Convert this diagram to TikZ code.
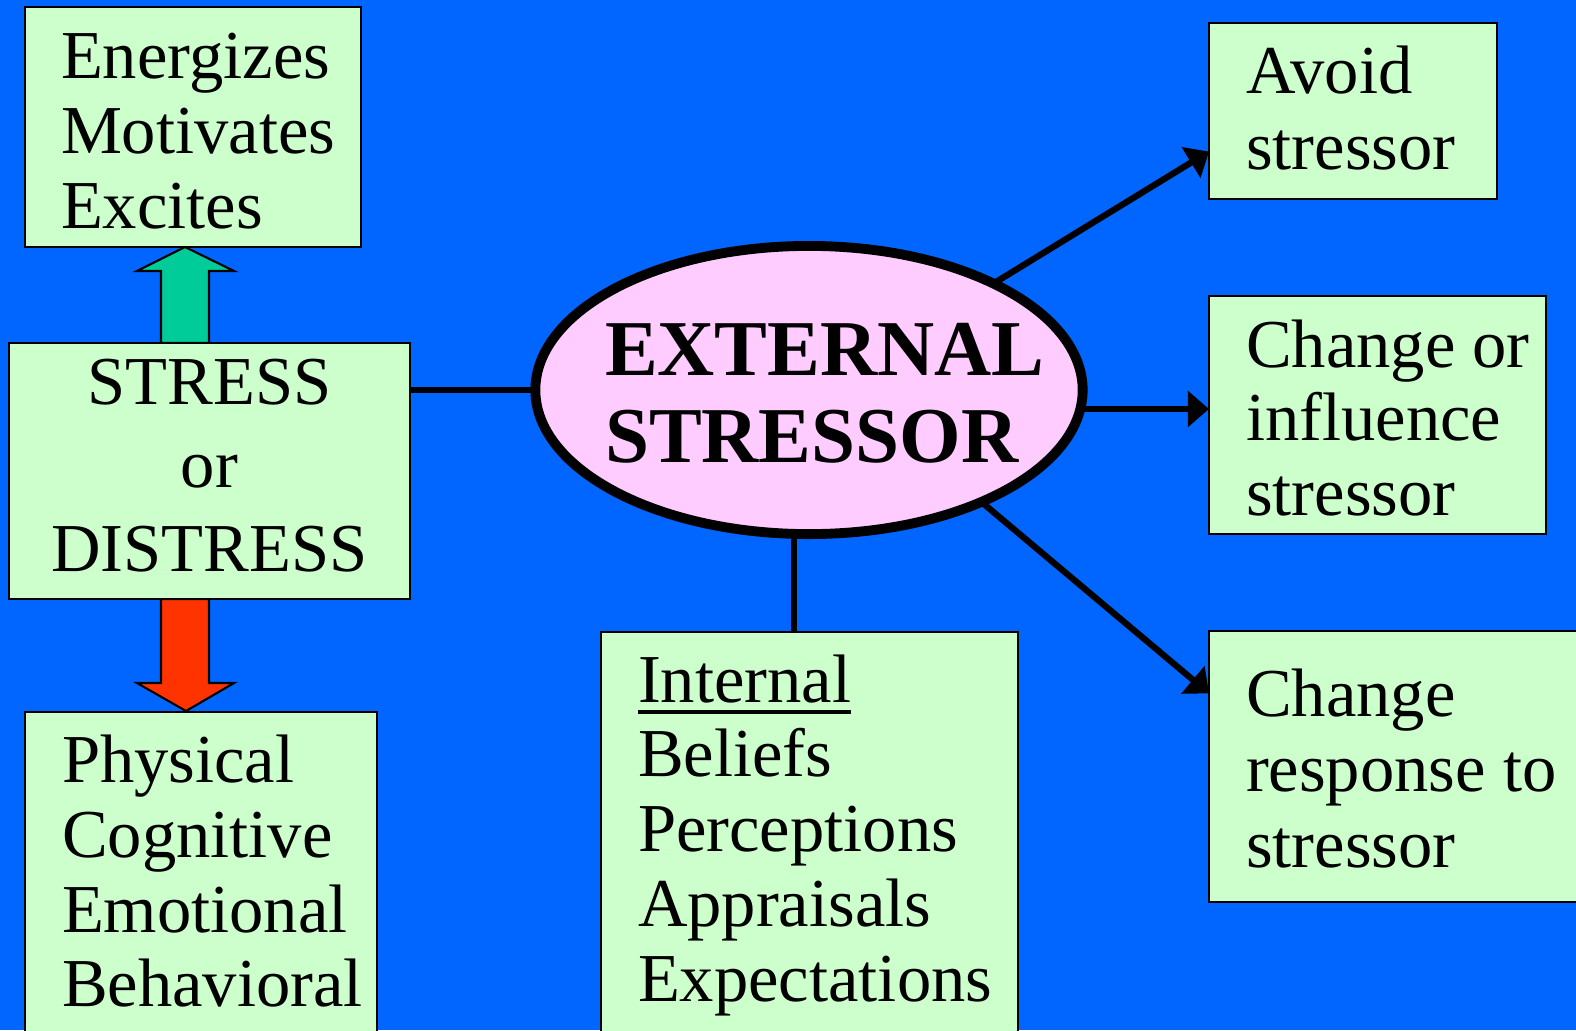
\documentclass[tikz,border=0pt]{standalone}
\usepackage{fontspec}
\setmainfont{Liberation Serif}
\newcommand{\ulword}[1]{\setbox0\hbox{#1}\rlap{\vrule height -2.4pt depth 3.3pt width \wd0}\box0}
\usetikzlibrary{arrows.meta,calc,shapes.geometric}
\definecolor{slideblue}{RGB}{0,102,255}
\definecolor{boxgreen}{RGB}{204,255,204}
\definecolor{ovalpink}{RGB}{255,204,255}
\definecolor{upgreen}{RGB}{0,204,153}
\definecolor{downred}{RGB}{255,51,0}
\begin{document}
\begin{tikzpicture}[x=0.01cm, y=-0.01cm, inner sep=0pt, outer sep=0pt,
	box/.style={draw=black,fill=boxgreen,line width=0.5pt,anchor=north west},
	txt/.style={anchor=base west,font=\fontsize{19.5}{21}\selectfont},
	link/.style={draw=black,line width=1.8pt},
	tip/.style={-{Triangle[length=6pt,width=10pt]}}]
	\useasboundingbox (0,0) rectangle (1576,1030);
	\fill[slideblue] (0,0) rectangle (1576,1030);
	% block arrows
	\path[draw=black,fill=upgreen,line width=0.6pt] (161,343) -- (161,271) -- (137,271) 
		-- (185,247) -- (234,271) -- (209,271) -- (209,343) -- cycle;
	\path[draw=black,fill=downred,line width=0.6pt] (161,599) -- (161,683) -- (137,683) 
		-- (186,711) -- (234,683) -- (209,683) -- (209,599) -- cycle;
	\node[box,minimum width=3.36cm,minimum height=2.40cm] (energize) at (25,7) {};
	\node[box,minimum width=4.01cm,minimum height=2.56cm] (stress) at (9,343) {};
	\node[box,minimum width=3.52cm,minimum height=3.40cm] (physical) at (25,712) {};
	\node[box,minimum width=4.17cm,minimum height=4.10cm] (internal) at (601,632) {};
	\node[box,minimum width=2.88cm,minimum height=1.76cm] (avoid) at (1209,23) {};
	\node[box,minimum width=3.37cm,minimum height=2.38cm] (influence) at (1209,296) {};
	\node[box,minimum width=3.90cm,minimum height=2.71cm] (response) at (1209,631) {};
	\node[ellipse,draw=black,fill=ovalpink,line width=2.8pt,minimum width=5.47cm,
		minimum height=2.88cm] (extstress) at (809,390) {};
	\node[txt,font=\fontsize{22.5}{25}\selectfont\bfseries] (extstress-1) at (605,375) {EXTERNAL};
	\node[txt,font=\fontsize{22.5}{25}\selectfont\bfseries] (extstress-2) at (605,462) {STRESSOR};
	\node[txt] (energize-1) at (61,78) {Energizes};
	\node[txt] (energize-2) at (61,153) {Motivates};
	\node[txt] (energize-3) at (61,228) {Excites};
	\node[txt,anchor=base] (stress-1) at (209.5,404) {STRESS};
	\node[txt,anchor=base] (stress-2) at (209.5,487) {or};
	\node[txt,anchor=base] (stress-3) at (209.5,571) {DISTRESS};
	\node[txt] (physical-1) at (62,782) {Physical};
	\node[txt] (physical-2) at (62,857) {Cognitive};
	\node[txt] (physical-3) at (62,932) {Emotional};
	\node[txt] (physical-4) at (62,1006) {Behavioral};
	\node[txt] (internal-1) at (638,702) {\ulword{Internal}};
	\node[txt] (internal-2) at (638,776) {Beliefs};
	\node[txt] (internal-3) at (638,851) {Perceptions};
	\node[txt] (internal-4) at (638,926) {Appraisals};
	\node[txt] (internal-5) at (638,1001) {Expectations};
	\node[txt] (avoid-1) at (1246,93) {Avoid};
	\node[txt] (avoid-2) at (1246,169) {stressor};
	\node[txt] (influence-1) at (1246,367) {Change or};
	\node[txt] (influence-2) at (1246,440) {influence};
	\node[txt] (influence-3) at (1246,515) {stressor};
	\node[txt] (response-1) at (1246,716) {Change};
	\node[txt] (response-2) at (1246,791) {response to};
	\node[txt] (response-3) at (1246,867) {stressor};
	\path[link] (stress.east |- extstress.west) -- (extstress.west);
	\path[link] (extstress.264) -- (extstress.264 |- internal.north);
	\path[link,tip] (extstress.30) -- ($(avoid.north west)!0.73!(avoid.south west)$);
	\path[link,tip] (extstress.-4) -- (extstress.-4 -| influence.west);
	\path[link,tip] (extstress.-33) -- ($(response.north west)!0.23!(response.south west)$);
\end{tikzpicture}
\end{document}
